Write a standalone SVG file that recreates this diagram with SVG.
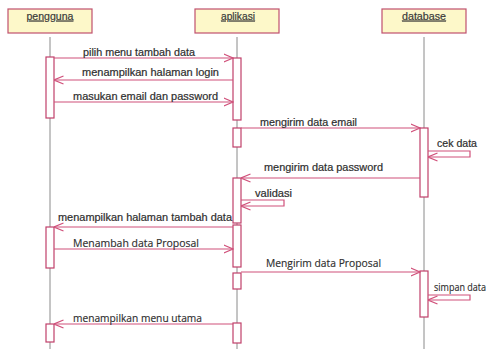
<svg xmlns="http://www.w3.org/2000/svg" width="494" height="349" viewBox="0 0 494 349">
  <style>
    .head { fill: #fdf8c9; stroke: #c0506e; stroke-width: 1.2; }
    .htxt { font-family: "Liberation Sans", Arial, sans-serif; font-size: 10.5px; fill: #3a3a3a; stroke: #3a3a3a; stroke-width: 0.2; text-anchor: middle; text-decoration: underline; }
    .life { stroke: #8a8a8a; stroke-width: 1; fill: none; }
    .act { fill: #ffffff; stroke: #c0406a; stroke-width: 1.2; }
    .msg { stroke: #d0507a; stroke-width: 1.2; fill: none; }
    .lbl { font-family: "Liberation Sans", Arial, sans-serif; font-size: 10.5px; fill: #2e2e2e; stroke: #2e2e2e; stroke-width: 0.2; }
    .lbl2 { font-family: "Open Sans", "Liberation Sans", sans-serif; font-size: 10.5px; fill: #2e2e2e; stroke: #2e2e2e; stroke-width: 0.15; }
  </style>
  <defs>
    <marker id="open" viewBox="0 0 10 10" refX="9.5" refY="5" markerWidth="10" markerHeight="10" markerUnits="userSpaceOnUse" orient="auto">
      <path d="M0,1 L9.5,5 L0,9" fill="none" stroke="#d0507a" stroke-width="1.2"/>
    </marker>
  </defs>
  <rect width="494" height="349" fill="#ffffff"/>

  <!-- lifelines -->
  <g id="lifelines">
    <line class="life" x1="50" y1="37" x2="50" y2="349"/>
    <line class="life" x1="237" y1="37" x2="237" y2="349"/>
    <line class="life" x1="424" y1="37" x2="424" y2="349"/>
  </g>

  <g id="pengguna">
    <rect class="head" x="8" y="9" width="84" height="24"/>
    <text class="htxt" x="50" y="19.5" textLength="47" lengthAdjust="spacingAndGlyphs">pengguna</text>
    <rect class="act" x="46" y="57" width="8" height="61"/>
    <rect class="act" x="46" y="227" width="8" height="41"/>
    <rect class="act" x="46" y="324" width="8" height="18"/>
  </g>

  <g id="aplikasi">
    <rect class="head" x="195" y="9" width="84" height="24"/>
    <text class="htxt" x="238" y="19.5" textLength="34" lengthAdjust="spacingAndGlyphs">aplikasi</text>
    <rect class="act" x="233" y="58" width="8" height="62"/>
    <rect class="act" x="233" y="128" width="8" height="19"/>
    <rect class="act" x="233" y="178" width="8" height="45"/>
    <rect class="act" x="233" y="225" width="8" height="42"/>
    <rect class="act" x="233" y="273" width="8" height="16"/>
    <rect class="act" x="233" y="323" width="8" height="20"/>
  </g>

  <g id="database">
    <rect class="head" x="382" y="9" width="84" height="24"/>
    <text class="htxt" x="424" y="19.5" textLength="44" lengthAdjust="spacingAndGlyphs">database</text>
    <rect class="act" x="420" y="128" width="8" height="69"/>
    <rect class="act" x="420" y="271" width="8" height="46"/>
  </g>

  <g id="connectors">
    <line class="msg" x1="54" y1="58" x2="233" y2="58" marker-end="url(#open)"/>
    <line class="msg" x1="233" y1="80" x2="54" y2="80" marker-end="url(#open)"/>
    <line class="msg" x1="54" y1="102" x2="233" y2="102" marker-end="url(#open)"/>
    <line class="msg" x1="241" y1="128" x2="420" y2="128" marker-end="url(#open)"/>
    <polyline class="msg" points="428,151 470,151 470,157 428,157" marker-end="url(#open)"/>
    <line class="msg" x1="420" y1="178" x2="241" y2="178" marker-end="url(#open)"/>
    <polyline class="msg" points="241,200 284,200 284,206 241,206" marker-end="url(#open)"/>
    <line class="msg" x1="233" y1="227" x2="54" y2="227" marker-end="url(#open)"/>
    <line class="msg" x1="54" y1="249" x2="233" y2="249" marker-end="url(#open)"/>
    <line class="msg" x1="241" y1="272" x2="420" y2="272" marker-end="url(#open)"/>
    <polyline class="msg" points="428,295 470,295 470,300 428,300" marker-end="url(#open)"/>
    <line class="msg" x1="233" y1="324" x2="54" y2="324" marker-end="url(#open)"/>
  </g>

  <g id="labels">
    <text class="lbl" x="83" y="55.5" textLength="112" lengthAdjust="spacingAndGlyphs">pilih menu tambah data</text>
    <text class="lbl" x="82" y="76" textLength="137" lengthAdjust="spacingAndGlyphs">menampilkan halaman login</text>
    <text class="lbl" x="73" y="100" textLength="145" lengthAdjust="spacingAndGlyphs">masukan email dan password</text>
    <text class="lbl" x="260" y="126" textLength="97" lengthAdjust="spacingAndGlyphs">mengirim data email</text>
    <text class="lbl" x="437" y="146.5" textLength="40" lengthAdjust="spacingAndGlyphs">cek data</text>
    <text class="lbl" x="264" y="170.5" textLength="119" lengthAdjust="spacingAndGlyphs">mengirim data password</text>
    <text class="lbl" x="255" y="196.5" textLength="37" lengthAdjust="spacingAndGlyphs">validasi</text>
    <text class="lbl" x="58" y="220.5" textLength="174" lengthAdjust="spacingAndGlyphs">menampilkan halaman tambah data</text>
    <text class="lbl2" x="73" y="246.5" textLength="126" lengthAdjust="spacingAndGlyphs">Menambah data Proposal</text>
    <text class="lbl2" x="266" y="266.5" textLength="115" lengthAdjust="spacingAndGlyphs">Mengirim data Proposal</text>
    <text class="lbl2" x="434" y="290.5" textLength="52" lengthAdjust="spacingAndGlyphs">simpan data</text>
    <text class="lbl2" x="73" y="321.5" textLength="129" lengthAdjust="spacingAndGlyphs">menampilkan menu utama</text>
  </g>
</svg>
